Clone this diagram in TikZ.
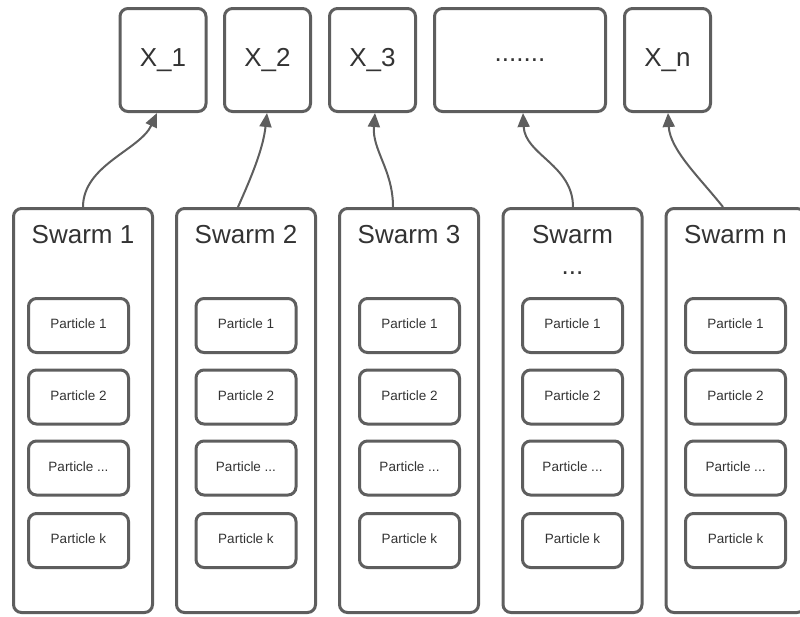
\documentclass[tikz,border=0pt]{standalone}
\usepackage{fontspec}
\setmainfont{Liberation Sans}
\usetikzlibrary{arrows.meta}
\definecolor{edge}{HTML}{5E5E5E}
\definecolor{ink}{HTML}{333333}
\tikzset{
  box/.style={draw=edge, line width=3pt, rounded corners=8pt, fill=white, inner sep=0pt},
  xbox/.style={box, minimum width=86pt, minimum height=103pt, font=\fontsize{26}{30}\selectfont, text=ink},
  swarmbox/.style={box, minimum width=139pt, minimum height=404pt},
  partbox/.style={box, minimum width=100pt, minimum height=54pt, text height=10pt, text depth=4pt, font=\fontsize{13.5}{16}\selectfont, text=ink},
  swarmlabel/.style={font=\fontsize{26}{30}\selectfont, text=ink, inner sep=0pt},
  link/.style={draw=edge, line width=2pt, -{Triangle[length=14pt,width=12pt]}}
}
\begin{document}
\begin{tikzpicture}[x=1pt, y=-1pt]
\useasboundingbox (0,0) rectangle (800,616);
\begin{scope}
\clip (0,0) rectangle (800,616);

% output variables
\node[xbox] (x1) at (163,60) {X\_1};
\node[xbox] (x2) at (267.5,60) {X\_2};
\node[xbox] (x3) at (372.5,60) {X\_3};
\node[xbox, minimum width=171pt] (xd) at (520,60) {.......};
\node[xbox] (xn) at (667.5,60) {X\_n};

% swarms
\node[swarmbox] (s1) at (83,410.5) {};
\node[swarmbox] (s2) at (246,410.5) {};
\node[swarmbox] (s3) at (409,410.5) {};
\node[swarmbox] (sd) at (572.5,410.5) {};
\node[swarmbox] (sn) at (735.5,410.5) {};

\node[swarmlabel] (l1) at (83,235) {Swarm 1};
\node[swarmlabel] (l2) at (246,235) {Swarm 2};
\node[swarmlabel] (l3) at (409,235) {Swarm 3};
\node[swarmlabel] (ld) at (572.5,235) {Swarm};
\node[swarmlabel] (ldd) at (572.5,273) {...};
\node[swarmlabel] (ln) at (735.5,235) {Swarm n};

% particles of each swarm
\foreach \s/\cx in {s1/78.5, s2/246, s3/409.5, sd/572.5, sn/735.5}{
  \node[partbox] (\s p1) at (\cx,325.5) {Particle 1};
  \node[partbox] (\s p2) at (\cx,397) {Particle 2};
  \node[partbox] (\s p3) at (\cx,468) {Particle ...};
  \node[partbox] (\s pk) at (\cx,540.5) {Particle k};
}

% swarm -> variable links
\path[link] ([xshift=0pt]s1.north) .. controls (83,165) and (140,150) .. ([xshift=-6pt]x1.south);
\path[link] ([xshift=-8pt]s2.north) .. controls (250,180) and (263,150) .. ([xshift=-0.5pt]x2.south);
\path[link] ([xshift=-16pt]s3.north) .. controls (393,170) and (372,150) .. ([xshift=2.5pt]x3.south);
\path[link] ([xshift=0.5pt]sd.north) .. controls (573,165) and (525,155) .. ([xshift=3pt]xd.south);
\path[link] ([xshift=-12.5pt]sn.north) .. controls (700,178) and (670,150) .. ([xshift=0.5pt]xn.south);
\end{scope}
\end{tikzpicture}
\end{document}
